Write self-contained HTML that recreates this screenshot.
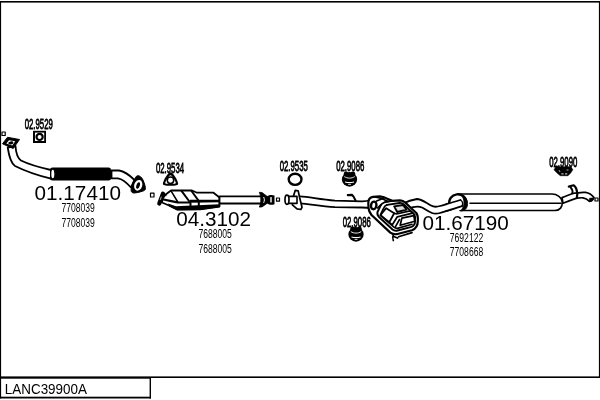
<!DOCTYPE html>
<html><head><meta charset="utf-8">
<style>
html,body{margin:0;padding:0;background:#fff;}
body{width:600px;height:400px;overflow:hidden;position:relative;font-family:"Liberation Sans",sans-serif;}
svg{position:absolute;left:0;top:0;will-change:transform;}
text{font-family:"Liberation Sans",sans-serif;fill:#000;}
.big{font-size:20px;}
.sm{font-size:12px;}
.lb{font-size:14.3px;stroke:#000;stroke-width:0.75;}
.l{fill:none;stroke:#000;stroke-width:1.8;stroke-linecap:round;stroke-linejoin:round;}
.w{fill:#fff;stroke:#000;stroke-width:1.8;stroke-linejoin:round;}
.k{fill:#000;stroke:#000;stroke-width:1;stroke-linejoin:round;}
</style></head><body>
<svg width="600" height="400" viewBox="0 0 600 400">
<!-- frame -->
<rect x="0" y="0" width="600" height="400" fill="#fff"/>
<rect x="0" y="1" width="600" height="1.6" fill="#000"/>
<rect x="0" y="1" width="1.1" height="397.5" fill="#000"/>
<rect x="598.9" y="1" width="1.1" height="377" fill="#000"/>
<rect x="0" y="376.4" width="600" height="1.6" fill="#000"/>
<rect x="0" y="377" width="151" height="1.7" fill="#000"/>
<rect x="0" y="396.7" width="151" height="1.8" fill="#000"/>
<rect x="149.6" y="377" width="1.4" height="21.5" fill="#000"/>
<text transform="translate(4.8,393.6) scale(0.975,1)" style="font-size:13.8px">LANC39900A</text>

<!-- ===== front pipe 01.17410 ===== -->
<g id="front">
<!-- pipe -->
<path class="w" d="M15.5,146 C16,154 17.5,158 21,160.5 C28,164 40,167.5 51,170 L51,178.7 C40,176 26,171.5 15,166 C10.5,163 9,156 7.7,147.5 Z"/>
<!-- left flange -->
<path class="k" d="M2.5,143.8 L7.5,137.3 L19.5,139.5 L13.2,148.5 Z"/>
<path d="M6.3,143.4 L9,140.2 L15.2,141.3 L12.2,145.6 Z" fill="#fff"/>
<ellipse cx="10.8" cy="142.9" rx="2.6" ry="1.5" fill="#000" transform="rotate(-10 10.8 142.9)"/>
<!-- flex -->
<rect x="50" y="167.5" width="61" height="13" rx="2.5" fill="#000"/>
<ellipse cx="52.8" cy="174" rx="1.5" ry="4.3" fill="#fff"/>
<!-- rear bend -->
<path class="w" d="M111.5,170.5 L119,170.5 C125,171.5 130,175.5 134.5,180 L131,187.5 C127,183 123,179 118,178.3 L111.5,178.3 Z"/>
<!-- right flange -->
<path class="k" d="M137.3,175.8 C139.5,175.3 141.5,177 143,180 C144.5,183.5 145.6,187 145.4,188.8 C145.2,190.3 144,190.8 142.5,191.2 C139.5,192.2 136,193 133.5,193 C131.5,192.8 130.8,191 131.2,189 C131.8,186 133,182.5 134.3,180 C135.2,177.8 136,176.2 137.3,175.8 Z"/>
<ellipse cx="138.2" cy="185.3" rx="4" ry="5.5" fill="#fff" transform="rotate(18 138.2 185.3)"/>
<ellipse cx="138.1" cy="185.5" rx="1.7" ry="3.4" fill="#000" transform="rotate(18 138.1 185.5)"/>
</g>
<text class="big" transform="translate(34.6,200) scale(1.035,1)">01.17410</text>
<text class="sm" transform="translate(78.2,212.3) scale(0.715,1)" text-anchor="middle">7708039</text>
<text class="sm" transform="translate(78.2,226.8) scale(0.715,1)" text-anchor="middle">7708039</text>

<!-- small squares -->
<rect class="w" x="2" y="132" width="3.2" height="3.5" style="stroke-width:1.2"/>
<rect class="w" x="150.5" y="193.2" width="3.5" height="3.8" style="stroke-width:1.2"/>
<rect class="w" x="276.5" y="198" width="3" height="3.2" style="stroke-width:1.2"/>
<rect class="w" x="595" y="198" width="3" height="3" style="stroke-width:1.2"/>

<!-- 02.9529 gasket -->
<text class="lb" transform="translate(24.7,129.4) scale(0.545,1)">02.9529</text>
<rect x="33" y="130.8" width="13" height="12.2" fill="#000"/>
<rect x="35" y="132.6" width="9.2" height="8.4" fill="#fff"/>
<circle cx="39.6" cy="136.9" r="3.1" fill="none" stroke="#000" stroke-width="2.2"/>

<!-- 02.9534 gasket -->
<text class="lb" transform="translate(155.9,172.9) scale(0.545,1)">02.9534</text>
<path d="M170.5,172.3 C173,172.3 177.9,180.5 178.1,183.6 C178.2,185.6 176,185.8 170.5,185.8 C165,185.8 162.8,185.6 162.9,183.6 C163.2,180.5 168,172.3 170.5,172.3 Z" fill="#000"/>
<path d="M170.5,175.2 C172,175.2 175.8,181.8 175.8,183 C175.8,183.8 174,183.8 170.5,183.8 C167,183.8 165.2,183.8 165.2,183 C165.2,181.8 169,175.2 170.5,175.2 Z" fill="#fff"/>
<circle cx="170.5" cy="180.2" r="3.2" fill="none" stroke="#000" stroke-width="1.5"/>

<!-- ===== catalytic converter 04.3102 ===== -->
<g id="cat">
<path class="w" d="M162.5,199 L165,195 L171,190.5 L192,190.5 L197,192.7 L213.5,192.7 L219.5,197.5 L219.5,206.5 L200,209.3 L177,209.5 L169,205.5 L162,202.5 Z"/>
<!-- dark lower band -->
<path d="M168,203.5 L176,206.3 L219.5,204.2 L219.5,207.2 L200,210 L177,210.3 L169,206.3 Z" fill="#000"/>
<path d="M190,199.8 L219.5,199.8 L219.5,202.3 L190,202.8 Z" fill="#000"/>
<path class="l" d="M163.5,199.5 L170,200.8 L177.5,202.3 L190,202.5" style="stroke-width:2.2"/>
<path class="l" d="M171,190.8 L177.8,202" style="stroke-width:1.5"/>
<path class="l" d="M181.5,190.8 L190.5,203 L190.5,207" style="stroke-width:2"/>
<path class="l" d="M191.5,191 L198.8,201 L198.8,207" style="stroke-width:2"/>
<!-- flange -->
<path d="M163,193.6 L159.3,203.6" stroke="#000" stroke-width="4.2" stroke-linecap="round" fill="none"/>
<path d="M163,194 L165.5,195" stroke="#000" stroke-width="2.2" stroke-linecap="round" fill="none"/>
<path d="M161.2,197 L160.3,199.6" stroke="#fff" stroke-width="0.7" stroke-linecap="round" fill="none"/>
<!-- pipe -->
<rect class="w" x="219.5" y="196.3" width="43" height="7.2"/>
<!-- end flange -->
<path d="M259.3,192.3 L262,192.5 L267.3,196.5 L267.3,203.2 L262,206.9 L259.3,207.1 C261.3,203 261.3,196.5 259.3,192.3 Z" fill="#000" stroke="#000" stroke-width="0.8" stroke-linejoin="round"/>
<path d="M263.6,197 C264.6,198.8 264.6,201 263.6,202.8" stroke="#fff" stroke-width="1" fill="none"/>
<path d="M267,196.5 C269,194.8 272,194.6 274.5,195.5 L274.5,204.2 C272,205.1 269,204.9 267,203.2 Z" fill="#000"/>
<rect x="270.3" y="197" width="1.4" height="5.6" rx="0.6" fill="#fff"/>
</g>
<text class="big" transform="translate(176.3,226.2) scale(1.035,1)">04.3102</text>
<text class="sm" transform="translate(215.2,238.2) scale(0.715,1)" text-anchor="middle">7688005</text>
<text class="sm" transform="translate(215.2,252.7) scale(0.715,1)" text-anchor="middle">7688005</text>

<!-- 02.9535 ring -->
<text class="lb" transform="translate(279.7,170.9) scale(0.545,1)">02.9535</text>
<ellipse cx="295.1" cy="179.3" rx="6.4" ry="5.6" fill="none" stroke="#000" stroke-width="2.4"/>

<!-- ===== middle pipe + muffler 01.67190 ===== -->
<g id="mid">
<!-- pipe -->
<path class="w" d="M297,196.4 L300,196.4 C310,197 320,199.6 335,200.7 L362,201.4 C366,201.4 369,200.5 372,199.5 L372,208 L362,207.5 L335,207.2 C320,206.3 310,204 300,203.3 L297,203.6 Z"/>
<!-- flange plate -->
<path class="w" d="M295.2,190.4 L298.2,190.8 L299.6,197.5 L302,207.3 L300.8,209.5 L297,208.8 L292.4,204.8 L293.2,197 Z" style="stroke-width:1.7"/>
<!-- stub -->
<rect class="w" x="288" y="196.4" width="9" height="7" style="stroke-width:1.6"/>
<!-- front ring -->
<ellipse cx="287" cy="199.8" rx="2" ry="4.6" fill="#fff" stroke="#000" stroke-width="1.7"/>
<!-- hook -->
<path class="l" d="M347.8,195.1 L352,194.9 C353.5,196 354.5,198 355.6,200.6" style="stroke-width:2.1"/>
<!-- outlet pipe to rear -->
<path class="w" d="M403,203.5 C406,202 411,200 417,199 C421,199 424,201.5 431,205.5 C434,207.3 437,207 440,206 C447,204 454,201.8 460,200 L462,206.2 C455,208.2 447,211 440,213 C437,213.8 434,213.8 432,213 C428,211.5 425,209 422,207.5 C419,206 415,206 408,208.5 Z"/>
<!-- muffler body -->
<path class="w" d="M368.3,203 C368.3,199.5 370,197.3 373,196.8 L380,196.3 C384,196.8 388,199 392,200.8 L400,200.3 C402,200.3 404,201.3 405.5,202.8 L416.3,213 C417.8,215 418,218 417.8,221 C417.8,226 415.3,229 412,230.2 L396.5,234.2 C394,234.5 392,233.7 390.3,232.6 L371.5,215 C369.8,213 368.8,210.5 368.5,208 Z" style="stroke-width:2.2"/>
<!-- back top edge -->
<path class="l" d="M375,197 C380,197.5 384,199 388,201.5" style="stroke-width:1.7"/>
<!-- ring 1 -->
<path class="l" d="M392,200.8 L384.5,202.3 C382.5,202.8 381.3,204 380.5,205.8 L377.5,212 C377,214 377.5,215.5 379,217 L392.5,229.5 C394,230.8 395.7,231 397.7,230.5 L411.5,226.8 C414,225.8 415,224 415,221.5 L415,217" style="stroke-width:1.9"/>
<!-- ring 2 -->
<path class="l" d="M387,204.8 L399.5,203 C401.5,202.8 403,203.6 404.5,205 L413.3,213.3 C414.8,214.8 415,216 415,217.5" style="stroke-width:1.8"/>
<path class="l" d="M387,204.8 C385.3,205.2 384.5,206.2 383.8,207.8 L381,213.5 C380.7,215 381.2,216 382.4,217 L394.2,227.3 C395.5,228.3 396.8,228.5 398.3,228.1 L412,224.3" style="stroke-width:1.7"/>
<!-- front-left face -->
<path class="l" d="M386.2,208.2 L394.2,213.2 L389.3,222.3 L380.3,215.2 Z" style="stroke-width:1.8"/>
<!-- ridge -->
<path class="l" d="M394.2,213.2 L396.5,214 L410,210.8 L414.8,214.8" style="stroke-width:1.7"/>
<path class="l" d="M389.3,222.3 L392.3,224.8 L397.3,216.8 L412.5,213.2" style="stroke-width:1.7"/>
<!-- right face -->
<path class="l" d="M401.8,218.2 L413.8,215.6 L414.8,221.3 L400.2,225.3 Z" style="stroke-width:1.7"/>
<path class="l" d="M395.2,227.2 L399.5,219.5" style="stroke-width:1.6"/>
<!-- small rectangle on top -->
<path class="w" d="M394.2,206.4 L403,205 L406.6,209.6 L397.2,212 Z" style="stroke-width:1.9;fill:#ddd"/>
<!-- inlet -->
<ellipse cx="373.7" cy="205.4" rx="2.7" ry="3.8" fill="#fff" stroke="#000" stroke-width="2.4" transform="rotate(10 373.7 205.4)"/>
<path class="l" d="M376.5,201 L383,198.5" style="stroke-width:1.7"/>
<path class="l" d="M377.5,208 L381,204.5" style="stroke-width:1.6"/>
<!-- bottom hook -->
<path class="l" d="M393.5,234.5 C392.5,236.5 392.5,238.5 393.3,240.5 M393,236.3 L397.5,238 M398.5,236.8 L412,232.6" style="stroke-width:1.7"/>
</g>
<text class="big" transform="translate(422.5,230) scale(1.035,1)">01.67190</text>
<text class="sm" transform="translate(466.5,241.8) scale(0.715,1)" text-anchor="middle">7692122</text>
<text class="sm" transform="translate(466.5,256.2) scale(0.715,1)" text-anchor="middle">7708668</text>

<!-- 02.9086 mounts -->
<text class="lb" transform="translate(336.2,171.4) scale(0.545,1)">02.9086</text>
<g>
<ellipse cx="349.5" cy="179.4" rx="7.6" ry="7.3" fill="#000"/>
<rect x="343.9" y="171.4" width="4.4" height="5" rx="1.8" fill="#000"/>
<rect x="350.7" y="171.4" width="4.4" height="5" rx="1.8" fill="#000"/>
<path d="M344.3,176.6 C347.3,178.6 351.7,178.6 354.7,176.6" fill="none" stroke="#fff" stroke-width="0.9"/>
<path d="M345,182 C348,182.8 351,182.8 354,182" fill="none" stroke="#fff" stroke-width="1.2"/>
<path d="M348.2,184.5 L351,184.5" fill="none" stroke="#fff" stroke-width="0.7"/>
</g>
<text class="lb" transform="translate(342.7,226.9) scale(0.545,1)">02.9086</text>
<g transform="translate(6.5,55)">
<ellipse cx="349.5" cy="179.4" rx="7.6" ry="7.3" fill="#000"/>
<rect x="343.9" y="171.4" width="4.4" height="5" rx="1.8" fill="#000"/>
<rect x="350.7" y="171.4" width="4.4" height="5" rx="1.8" fill="#000"/>
<path d="M344.3,176.6 C347.3,178.6 351.7,178.6 354.7,176.6" fill="none" stroke="#fff" stroke-width="0.9"/>
<path d="M345,182 C348,182.8 351,182.8 354,182" fill="none" stroke="#fff" stroke-width="1.2"/>
<path d="M348.2,184.5 L351,184.5" fill="none" stroke="#fff" stroke-width="0.7"/>
</g>

<!-- ===== rear muffler ===== -->
<g id="rear">
<path class="w" d="M458,194 L552,194 C557,194 562,197.5 562.3,202 C562.5,207 560,210.5 555,210.5 L460,210.5 Z" style="stroke-width:1.6"/>
<path class="l" d="M470,203.3 L561,203.3" style="stroke-width:1.5"/>
<!-- end cap -->
<ellipse cx="457.8" cy="202.2" rx="8.6" ry="8.2" fill="#fff"/>
<path d="M449.4,204.2 A8.6,8.2 0 1 1 466.4,202.2" fill="none" stroke="#000" stroke-width="2.3" stroke-linecap="round"/>
<path d="M461.5,195.5 C466,197 468,201 467.5,205 C467,208.8 464.5,211 460.5,211 C463,208.5 464,205.5 464,202.8 C464,200 463,197.3 461.5,195.5 Z" fill="#000" stroke="#000" stroke-width="0.8"/>
<path d="M446,204.3 C451,202.8 456,201.2 460.5,200 C462.5,201.5 463,204 462,206.2 C457,207.7 451,209.6 446,211.2 Z" fill="#fff"/>
<path class="l" d="M446,204.3 C451,202.8 456,201.2 460.5,200 M446,211.2 C451,209.6 457,207.7 462,206.2"/>
<path class="l" d="M460.5,200 C462.8,201.5 463,204.2 462,206.2" style="stroke-width:1.4"/>
<!-- tail pipe -->
<path class="w" d="M562,197.6 C566,196.2 569,194.8 572,193.8 C574,193.2 576,193 578,192.9 C580.5,192.4 583,192.2 585.5,192.4 C589,193 592,195 594,197.5 C593,200 591.5,201.3 589.5,201.3 C587.5,199.2 585,198 583,197.8 C581,197.7 579,197.8 577,198.1 C572,199.5 568,201.2 563,203.2 Z" style="stroke-width:1.7"/>
<path class="l" d="M568.8,186.6 L573.5,185.3 C575.5,186.5 577,190 577.3,194 L576.8,198" style="stroke-width:2.2"/>
<path class="l" d="M570.8,187.6 C572.3,189.3 572.9,191 572.3,193.3" style="stroke-width:2"/>
<path d="M589.5,198.3 L593.6,197.8 L592,201.2 L589.5,201.3 Z" fill="#000" stroke="#000" stroke-width="0.6" stroke-linejoin="round"/>
</g>
<!-- 02.9090 -->
<text class="lb" transform="translate(549.2,167.4) scale(0.545,1)">02.9090</text>
<path d="M556,166.8 L571,166.8 L572.8,169.8 C571.5,172 570,174 568,175.7 L560.3,175.7 C558,174 556,172 554,169.8 Z" fill="#000" stroke="#000" stroke-width="0.6" stroke-linejoin="round"/>
<path d="M561.3,173.9 L563.6,173.9 M565,173.9 L567.3,173.9" stroke="#fff" stroke-width="0.9" fill="none"/>
<path d="M559.2,170.2 L560,172 M566.5,170 L568.5,170" stroke="#fff" stroke-width="0.7" fill="none"/>
</svg>
</body></html>
